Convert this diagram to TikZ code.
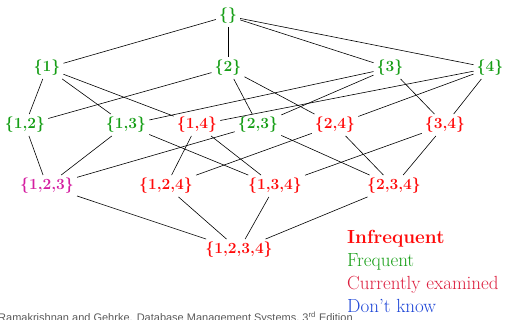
\documentclass[tikz,border=0pt]{standalone}
\usepackage{fontspec}
\newfontfamily\footfont{Liberation Sans}
\definecolor{freq}{RGB}{22, 158, 22}
\definecolor{infreq}{RGB}{255, 10, 10}
\definecolor{current}{RGB}{212, 30, 160}
\definecolor{currtext}{RGB}{220, 30, 62}
\definecolor{unknown}{RGB}{30, 70, 215}
\definecolor{footgray}{RGB}{90, 90, 90}

\begin{document}
\begin{tikzpicture}[x=1pt, y=-1pt,
        every node/.style={inner sep=3pt},
        set/.style={font=\fontsize{15.5}{17}\selectfont\bfseries},
        fset/.style={set, text=freq},
        iset/.style={set, text=infreq},
        cset/.style={set, text=current},
        legend/.style={anchor=base west, inner sep=0pt, font=\fontsize{19}{22}\selectfont},
        edge/.style={draw=black, line width=0.6pt}
    ]
        \useasboundingbox (0,0) rectangle (518,320);

        % lattice of itemsets
        \node[fset] (e)    at (228, 16)  {\{\}};

        \node[fset] (n1)   at (47, 68)   {\{1\}};
        \node[fset] (n2)   at (228, 68)  {\{2\}};
        \node[fset] (n3)   at (390, 68)  {\{3\}};
        \node[fset] (n4)   at (490, 68)  {\{4\}};

        \node[fset] (n12)  at (25, 125)  {\{1,2\}};
        \node[fset] (n13)  at (126, 125) {\{1,3\}};
        \node[iset] (n14)  at (197, 125) {\{1,4\}};
        \node[fset] (n23)  at (258, 125) {\{2,3\}};
        \node[iset] (n24)  at (335, 125) {\{2,4\}};
        \node[iset] (n34)  at (445, 125) {\{3,4\}};

        \node[cset] (n123) at (47, 186)  {\{1,2,3\}};
        \node[iset] (n124) at (166, 186) {\{1,2,4\}};
        \node[iset] (n134) at (275, 186) {\{1,3,4\}};
        \node[iset] (n234) at (394, 186) {\{2,3,4\}};

        \node[iset] (n1234) at (239, 250) {\{1,2,3,4\}};

        \draw[edge] (e) -- (n1);
        \draw[edge] (e) -- (n2);
        \draw[edge] (e) -- (n3);
        \draw[edge] (e) -- (n4);

        \draw[edge] (n1) -- (n12);
        \draw[edge] (n1) -- (n13);
        \draw[edge] (n1) -- (n14);
        \draw[edge] (n2) -- (n12);
        \draw[edge] (n2) -- (n23);
        \draw[edge] (n2) -- (n24);
        \draw[edge] (n3) -- (n13);
        \draw[edge] (n3) -- (n23);
        \draw[edge] (n3) -- (n34);
        \draw[edge] (n4) -- (n14);
        \draw[edge] (n4) -- (n24);
        \draw[edge] (n4) -- (n34);

        \draw[edge] (n12) -- (n123);
        \draw[edge] (n13) -- (n123);
        \draw[edge] (n13) -- (n134);
        \draw[edge] (n14) -- (n124);
        \draw[edge] (n14) -- (n134);
        \draw[edge] (n23) -- (n123);
        \draw[edge] (n23) -- (n234);
        \draw[edge] (n24) -- (n124);
        \draw[edge] (n24) -- (n234);
        \draw[edge] (n34) -- (n134);
        \draw[edge] (n34) -- (n234);

        \draw[edge] (n123) -- (n1234);
        \draw[edge] (n124) -- (n1234);
        \draw[edge] (n134) -- (n1234);
        \draw[edge] (n234) -- (n1234);

        % legend
        \node[legend, text=infreq] (linf) at (347, 243) {\bfseries Infrequent};
        \node[legend, text=freq]   (lfrq) at (347, 266) {Frequent};
        \node[legend, text=currtext] (lcur) at (347, 289) {Currently examined};
        \node[legend, text=unknown] (lunk) at (347, 312) {Don’t know};

        % source line, cut by the page edge
        \node[anchor=base west, inner sep=0pt, text=footgray, font=\footfont\fontsize{11}{12}\selectfont]
            (src) at (-2, 321) {Ramakrishnan and Gehrke. Database Management Systems, 3\textsuperscript{rd} Edition};
    \end{tikzpicture}
\end{document}
